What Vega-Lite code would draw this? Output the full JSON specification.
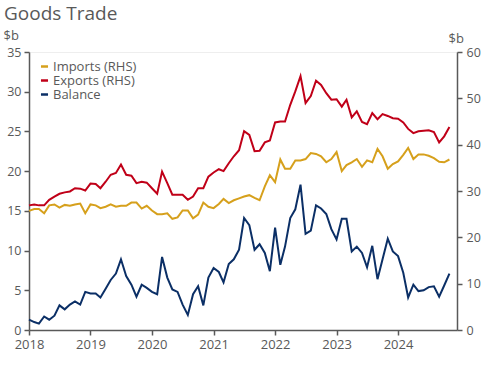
{
  "$schema": "https://vega.github.io/schema/vega-lite/v6.json",
  "autosize": {"type": "none"},
  "width": 428,
  "height": 278,
  "padding": {"left": 29, "top": 52, "right": 43, "bottom": 39},
  "background": "white",
  "config": {
    "font": "Open Sans",
    "view": {"stroke": "#eeeeee"},
    "axis": {"labelColor": "#595959", "titleColor": "#595959", "domainColor": "#595959", "tickColor": "#595959", "labelFontSize": 12.5, "titleFontSize": 13, "titleFontWeight": "normal", "grid": false, "domainWidth": 1.5, "tickWidth": 1.5, "tickSize": 5}
  },
  "title": {"text": "Goods Trade", "anchor": "start", "frame": "group", "orient": "top", "fontSize": 19, "fontWeight": "normal", "color": "#595959", "baseline": "alphabetic", "offset": 14, "dx": -25, "dy": 24},
  "data": {"values": [
    {"date":"2018-01-01","imports":25.7,"exports":26.9,"balance":1.3},
    {"date":"2018-02-01","imports":26.1,"exports":27.1,"balance":1.0},
    {"date":"2018-03-01","imports":26.1,"exports":26.9,"balance":0.8},
    {"date":"2018-04-01","imports":25.2,"exports":26.9,"balance":1.7},
    {"date":"2018-05-01","imports":26.9,"exports":28.1,"balance":1.3},
    {"date":"2018-06-01","imports":27.1,"exports":28.8,"balance":1.8},
    {"date":"2018-07-01","imports":26.4,"exports":29.4,"balance":3.1},
    {"date":"2018-08-01","imports":27.0,"exports":29.7,"balance":2.6},
    {"date":"2018-09-01","imports":26.8,"exports":29.9,"balance":3.2},
    {"date":"2018-10-01","imports":27.1,"exports":30.6,"balance":3.6},
    {"date":"2018-11-01","imports":27.3,"exports":30.5,"balance":3.2},
    {"date":"2018-12-01","imports":25.2,"exports":30.1,"balance":4.8},
    {"date":"2019-01-01","imports":27.1,"exports":31.6,"balance":4.6},
    {"date":"2019-02-01","imports":26.9,"exports":31.5,"balance":4.6},
    {"date":"2019-03-01","imports":26.3,"exports":30.6,"balance":4.1},
    {"date":"2019-04-01","imports":26.6,"exports":32.0,"balance":5.2},
    {"date":"2019-05-01","imports":27.1,"exports":33.5,"balance":6.3},
    {"date":"2019-06-01","imports":26.6,"exports":33.9,"balance":7.1},
    {"date":"2019-07-01","imports":26.8,"exports":35.7,"balance":8.9},
    {"date":"2019-08-01","imports":26.8,"exports":33.5,"balance":6.8},
    {"date":"2019-09-01","imports":27.5,"exports":33.3,"balance":5.7},
    {"date":"2019-10-01","imports":27.5,"exports":31.7,"balance":4.2},
    {"date":"2019-11-01","imports":26.2,"exports":32.0,"balance":5.7},
    {"date":"2019-12-01","imports":26.8,"exports":31.8,"balance":5.3},
    {"date":"2020-01-01","imports":25.8,"exports":30.6,"balance":4.8},
    {"date":"2020-02-01","imports":25.0,"exports":29.4,"balance":4.5},
    {"date":"2020-03-01","imports":25.0,"exports":34.2,"balance":9.2},
    {"date":"2020-04-01","imports":25.2,"exports":31.7,"balance":6.6},
    {"date":"2020-05-01","imports":24.0,"exports":29.2,"balance":5.1},
    {"date":"2020-06-01","imports":24.3,"exports":29.2,"balance":4.8},
    {"date":"2020-07-01","imports":25.8,"exports":29.2,"balance":3.2},
    {"date":"2020-08-01","imports":25.8,"exports":28.1,"balance":1.9},
    {"date":"2020-09-01","imports":24.1,"exports":28.8,"balance":4.5},
    {"date":"2020-10-01","imports":24.9,"exports":30.6,"balance":5.5},
    {"date":"2020-11-01","imports":27.5,"exports":30.6,"balance":3.1},
    {"date":"2020-12-01","imports":26.6,"exports":33.1,"balance":6.6},
    {"date":"2021-01-01","imports":26.3,"exports":34.0,"balance":7.8},
    {"date":"2021-02-01","imports":27.2,"exports":34.7,"balance":7.3},
    {"date":"2021-03-01","imports":28.3,"exports":34.3,"balance":6.0},
    {"date":"2021-04-01","imports":27.4,"exports":36.0,"balance":8.3},
    {"date":"2021-05-01","imports":28.0,"exports":37.5,"balance":8.9},
    {"date":"2021-06-01","imports":28.4,"exports":38.8,"balance":10.1},
    {"date":"2021-07-01","imports":28.8,"exports":42.9,"balance":14.1},
    {"date":"2021-08-01","imports":29.1,"exports":42.1,"balance":13.2},
    {"date":"2021-09-01","imports":28.5,"exports":38.6,"balance":10.1},
    {"date":"2021-10-01","imports":28.0,"exports":38.7,"balance":10.8},
    {"date":"2021-11-01","imports":31.0,"exports":40.5,"balance":9.7},
    {"date":"2021-12-01","imports":33.4,"exports":40.9,"balance":7.4},
    {"date":"2022-01-01","imports":31.9,"exports":44.8,"balance":12.9},
    {"date":"2022-02-01","imports":36.8,"exports":45.0,"balance":8.2},
    {"date":"2022-03-01","imports":34.8,"exports":45.0,"balance":10.5},
    {"date":"2022-04-01","imports":34.8,"exports":48.6,"balance":14.1},
    {"date":"2022-05-01","imports":36.6,"exports":51.5,"balance":15.2},
    {"date":"2022-06-01","imports":36.6,"exports":54.8,"balance":18.3},
    {"date":"2022-07-01","imports":36.9,"exports":49.0,"balance":12.1},
    {"date":"2022-08-01","imports":38.2,"exports":50.5,"balance":12.5},
    {"date":"2022-09-01","imports":38.0,"exports":53.8,"balance":15.7},
    {"date":"2022-10-01","imports":37.5,"exports":52.9,"balance":15.3},
    {"date":"2022-11-01","imports":36.2,"exports":51.1,"balance":14.6},
    {"date":"2022-12-01","imports":36.9,"exports":49.7,"balance":12.7},
    {"date":"2023-01-01","imports":38.4,"exports":49.8,"balance":11.4},
    {"date":"2023-02-01","imports":34.3,"exports":48.2,"balance":14.0},
    {"date":"2023-03-01","imports":35.6,"exports":49.7,"balance":14.0},
    {"date":"2023-04-01","imports":36.2,"exports":45.9,"balance":9.9},
    {"date":"2023-05-01","imports":36.9,"exports":47.2,"balance":10.5},
    {"date":"2023-06-01","imports":35.2,"exports":44.9,"balance":9.7},
    {"date":"2023-07-01","imports":36.6,"exports":44.4,"balance":7.9},
    {"date":"2023-08-01","imports":36.2,"exports":46.8,"balance":10.6},
    {"date":"2023-09-01","imports":39.1,"exports":45.5,"balance":6.4},
    {"date":"2023-10-01","imports":37.5,"exports":46.6,"balance":8.9},
    {"date":"2023-11-01","imports":34.8,"exports":46.2,"balance":11.5},
    {"date":"2023-12-01","imports":35.8,"exports":45.7,"balance":9.9},
    {"date":"2024-01-01","imports":36.4,"exports":45.6,"balance":9.3},
    {"date":"2024-02-01","imports":37.8,"exports":44.8,"balance":7.2},
    {"date":"2024-03-01","imports":39.3,"exports":43.4,"balance":4.1},
    {"date":"2024-04-01","imports":36.9,"exports":42.5,"balance":5.7},
    {"date":"2024-05-01","imports":37.9,"exports":42.9,"balance":4.9},
    {"date":"2024-06-01","imports":37.9,"exports":43.0,"balance":5.0},
    {"date":"2024-07-01","imports":37.6,"exports":43.1,"balance":5.4},
    {"date":"2024-08-01","imports":37.1,"exports":42.7,"balance":5.5},
    {"date":"2024-09-01","imports":36.3,"exports":40.5,"balance":4.2},
    {"date":"2024-10-01","imports":36.2,"exports":41.8,"balance":5.6},
    {"date":"2024-11-01","imports":36.8,"exports":43.8,"balance":7.1}
  ]},
  "transform": [{"fold": ["imports", "exports", "balance"], "as": ["series", "value"]}],
  "encoding": {
    "x": {
      "field": "date", "type": "temporal",
      "scale": {"type": "utc", "domain": [{"year": 2018, "month": 1, "date": 1, "utc": true}, {"year": 2024, "month": 12, "date": 16, "utc": true}]},
      "axis": {"title": null, "format": "%Y", "labelFontSize": 13, "labelPadding": 3, "labelFlush": false, "labelOverlap": false, "values": [
        {"year": 2018, "month": 1, "date": 1, "utc": true},
        {"year": 2019, "month": 1, "date": 1, "utc": true},
        {"year": 2020, "month": 1, "date": 1, "utc": true},
        {"year": 2021, "month": 1, "date": 1, "utc": true},
        {"year": 2022, "month": 1, "date": 1, "utc": true},
        {"year": 2023, "month": 1, "date": 1, "utc": true},
        {"year": 2024, "month": 1, "date": 1, "utc": true}
      ]}
    },
    "color": {
      "field": "series", "type": "nominal",
      "scale": {"domain": ["imports", "exports", "balance"], "range": ["#D6A01C", "#C00018", "#0B2F66"]},
      "legend": {
        "title": null, "orient": "none", "legendX": 9, "legendY": 8, "padding": 0,
        "symbolType": "stroke", "symbolSize": 50, "symbolStrokeWidth": 2.5,
        "labelFontSize": 13, "labelColor": "#595959", "labelOffset": 2, "rowPadding": -1,
        "labelExpr": "datum.value == 'imports' ? 'Imports (RHS)' : datum.value == 'exports' ? 'Exports (RHS)' : 'Balance'"
      }
    }
  },
  "layer": [
    {
      "transform": [{"filter": "datum.series == 'balance'"}],
      "mark": {"type": "line", "strokeWidth": 2},
      "encoding": {
        "y": {"field": "value", "type": "quantitative",
          "scale": {"domain": [0, 35], "nice": false},
          "axis": {"orient": "left", "values": [0, 5, 10, 15, 20, 25, 30, 35], "title": "$b", "titleAngle": 0, "titleAlign": "left", "titleBaseline": "alphabetic", "titleX": -26, "titleY": -13, "labelPadding": 3}}
      }
    },
    {
      "transform": [{"filter": "datum.series != 'balance'"}],
      "mark": {"type": "line", "strokeWidth": 2},
      "encoding": {
        "y": {"field": "value", "type": "quantitative",
          "scale": {"domain": [0, 60], "nice": false},
          "axis": {"orient": "right", "values": [0, 10, 20, 30, 40, 50, 60], "title": "$b", "titleAngle": 0, "titleAlign": "left", "titleBaseline": "alphabetic", "titleX": -9, "titleY": -10, "labelPadding": 4}}
      }
    }
  ],
  "resolve": {"scale": {"y": "independent"}}
}
